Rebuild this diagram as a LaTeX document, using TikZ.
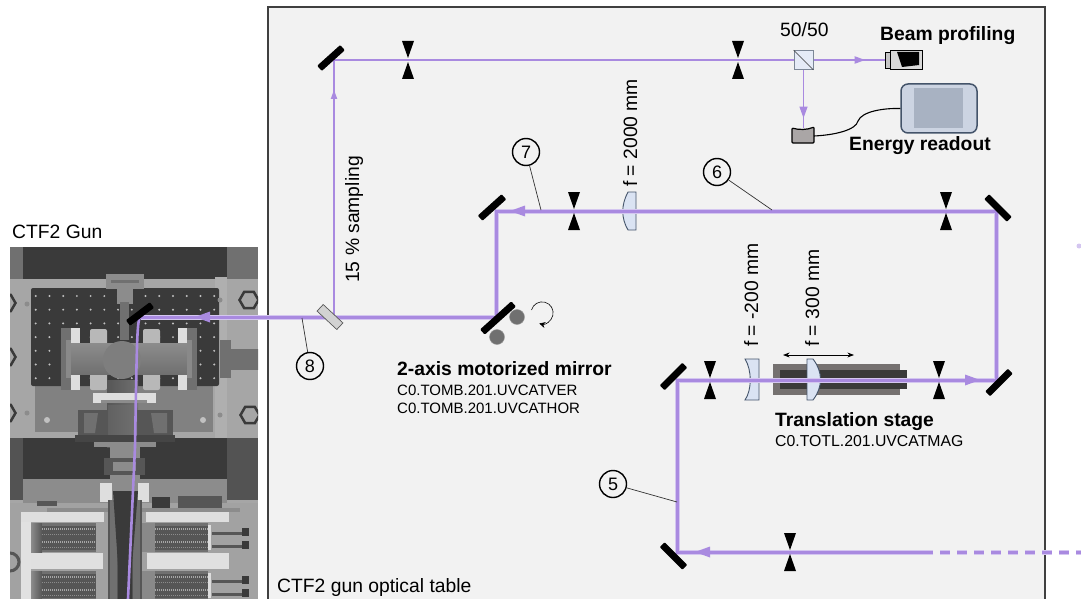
\documentclass[tikz,border=0pt]{standalone}
\usepackage{fontspec}
\setmainfont{Liberation Sans}
\usetikzlibrary{arrows.meta,calc,shapes.geometric}

\definecolor{beamcol}{HTML}{A98AE0}
\definecolor{glowcol}{HTML}{D4C6F0}
\definecolor{tablebg}{HTML}{F2F2F2}
\definecolor{framecol}{HTML}{404040}
\definecolor{lensfill}{HTML}{DAE3F3}
\definecolor{lensline}{HTML}{44546A}
\definecolor{stagecol}{HTML}{757170}
\definecolor{detcol}{HTML}{AAA6A6}
\definecolor{gunA}{HTML}{3A3A3A}
\definecolor{gunB}{HTML}{707070}
\definecolor{gunC}{HTML}{A6A6A6}
\definecolor{gunD}{HTML}{8C8C8C}
\definecolor{gunE}{HTML}{DEDEDE}
\definecolor{gunF}{HTML}{565656}

\begin{document}
\begin{tikzpicture}[
  x=1pt,y=-1pt,
  >=Stealth,
  lbl/.style   ={anchor=base west,inner sep=0pt,font=\fontsize{19.3}{22}\selectfont},
  lblb/.style  ={lbl,font=\fontsize{19.3}{22}\selectfont\bfseries},
  lbls/.style  ={lbl,font=\fontsize{15}{18}\selectfont},
  num/.style   ={draw=black,circle,line width=1.4pt,minimum size=27pt,inner sep=0pt,
                 font=\fontsize{18}{20}\selectfont},
  leader/.style={draw=black!80,line width=0.7pt},
  mirror/.style={fill=black,rectangle,rounded corners=1pt,minimum height=7pt,inner sep=0pt},
  glow/.style  ={draw=glowcol,line width=5pt},
  beam/.style  ={draw=beamcol,line width=3pt},
  thinbeam/.style={draw=beamcol,line width=1.5pt},
  lens/.style  ={fill=lensfill,draw=lensline,line width=0.9pt},
]

%% ===== Table and gun backgrounds =============================================
\fill[tablebg] (268,7) rectangle (1045,599);
\useasboundingbox (0,0) rectangle (1081,599);

\begin{scope}
  \clip (10,247) rectangle (258,599);
  \fill[gunC] (10,247) rectangle (258,599);
  \fill[gunB] (10,247) rectangle (23,279);
  \fill[gunB] (227,247) rectangle (258,279);
  \fill[gunA] (23,247) rectangle (227,279);
  \fill[gunC!90!white] (215,277) rectangle (227,440);
  \fill[gunD!110!white] (35,385) rectangle (213,432);
  \fill[gunA] (23,438) rectangle (227,479);
  \fill[gunB!120!white] (10,438) rectangle (23,500);
  \fill[gunB!120!white] (227,438) rectangle (258,500);
  \fill[gunD] (23,479) rectangle (227,503);

  %% breadboard
  \fill[gunA,rounded corners=2pt] (31,288) rectangle (219,386);
  \foreach \cx in {0,...,13}
    \foreach \cy in {0,...,6}
      \fill[gunC!70!white] (35.7+13.73*\cx,296+13.7*\cy) circle (1.1pt);

  %% bellows and flanges
  \fill[gunD] (106,274) rectangle (144,289);
  \fill[gunB] (111,280) rectangle (139,283);
  \fill[gunD] (117,284) rectangle (133,304);
  \fill[gunB] (120,302) rectangle (129,340);
  \fill[gunB] (61,328) rectangle (71,390);
  \fill[gunB] (187,328) rectangle (197,390);
  \foreach \wx in {71,178} {
    \fill[gunE] (\wx,328) rectangle (\wx+9,344);
    \fill[gunE] (\wx,375) rectangle (\wx+9,390);
  }
  \fill[gunC!80!white,rounded corners=2pt] (90,329) rectangle (107,390);
  \fill[gunC!80!white,rounded corners=2pt] (143,329) rectangle (160,390);
  \shade[top color=gunD,middle color=gunC,bottom color=gunB] (71,343) rectangle (187,374);
  \fill[gunD!90!black] (122,360) circle (19pt);
  \fill[gunF!70] (66,340) rectangle (71,378);
  \fill[gunF!70] (187,340) rectangle (192,378);

  %% side port
  \fill[gunB] (220,340) rectangle (231,378);
  \shade[top color=gunB,middle color=gunC,bottom color=gunB] (231,349) rectangle (258,369);

  %% lower column
  \shade[left color=gunF,right color=gunB] (107,380) rectangle (138,447);
  \fill[gunE] (93,393) rectangle (156,403);
  \fill[gunD] (101,400) rectangle (147,403);
  \fill[gunF] (78,410) rectangle (173,437);
  \fill[gunB] (84,413) -- (98,413) -- (95,433) -- (84,433) -- cycle;
  \fill[gunB] (167,413) -- (151,413) -- (154,433) -- (167,433) -- cycle;
  \shade[left color=gunA!80,right color=gunB] (108,405) rectangle (137,435);
  \fill[gunF!80!black] (75,435) rectangle (175,442);
  \fill[gunD] (94,442) rectangle (156,447);

  %% nuts and pins
  \foreach \nx/\ny in {249/300,250/415,6/303,6/357,6/413}
    \node[draw=gunA,line width=2.5pt,fill=gunC,regular polygon,regular polygon sides=6,
          minimum size=19pt,inner sep=0pt] (nut\nx\ny) at (\nx,\ny) {};
  \foreach \nx/\ny in {27/304,27/413,220/300,220/415}
    \fill[gunD] (\nx,\ny) circle (2.5pt);
  \foreach \nx/\ny in {47/420,203/420}
    \fill[gunC!70!white] (\nx,\ny) circle (3pt);

  %% solenoid section
  \fill[gunC!85!gunD] (10,503) rectangle (258,599);
  \fill[gunF] (37,501) rectangle (57,506);
  \fill[gunA] (152,497) rectangle (170,508);
  \fill[gunF] (178,496) rectangle (222,508);
  \fill[gunD] (47,508) rectangle (240,512);
  \fill[gunE!90] (21,522) rectangle (31,599);
  \fill[gunE] (21,512) rectangle (104,522);
  \fill[gunE] (146,512) rectangle (229,522);
  \fill[gunE!95] (31,553) rectangle (103,569);
  \fill[gunE!95] (147,553) rectangle (229,569);
  \foreach \py in {523,571} {
    \shade[left color=gunD,right color=gunF] (31,\py) rectangle (42,\py+29);
    \fill[gunB] (42,\py) rectangle (96,\py+29);
    \fill[gunF!70] (138,\py) rectangle (155,\py+29);
    \fill[gunB] (155,\py) rectangle (208,\py+29);
    \fill[gunE] (208,\py+2) rectangle (211,\py+27);
    \foreach \rx/\rw in {42/96,155/208} {
      \fill[gunF] (\rx,\py+3) rectangle (\rw,\py+27);
      \draw[gunC,line width=2pt,dash pattern=on 1pt off 1pt] (\rx,\py+6) -- (\rw,\py+6);
      \draw[gunD,line width=1.6pt,dash pattern=on 1pt off 1pt] (\rx,\py+11.5) -- (\rw,\py+11.5);
      \draw[gunC,line width=2pt,dash pattern=on 1pt off 1pt] (\rx,\py+19) -- (\rw,\py+19);
      \draw[gunD,line width=1.6pt,dash pattern=on 1pt off 1pt] (\rx,\py+24.5) -- (\rw,\py+24.5);
    }
    \foreach \ky in {0,13} {
      \fill[gunF] (212,\py+\ky+9) rectangle (243,\py+\ky+12);
      \fill[gunA] (242,\py+\ky+5) rectangle (249,\py+\ky+13);
    }
  }
  \draw[gunF,line width=3pt] (10,562) circle (9pt);

  %% upper beam tube and cone
  \fill[gunD] (110,447) rectangle (140,490);
  \fill[gunF] (104,458) rectangle (145,475);
  \fill[gunD] (113,462) rectangle (136,471);
  \fill[gunE] (100,483) rectangle (112,502);
  \fill[gunE] (138,483) rectangle (149,502);
  \fill[gunF] (108,500) rectangle (142,599);
  \fill[gunB] (110,500) rectangle (117,599);
  \fill[gunB] (133,500) rectangle (140,599);
  \fill[gunA] (113,491) -- (138,491) -- (132,565) -- (132,599) -- (118,599) -- (118,565) -- cycle;
\end{scope}

%% ===== Frame of the optical table ============================================
\draw[draw=framecol,line width=2pt] (268,599) -- (268,7) -- (1045,7) -- (1045,599);

%% ===== Labels ================================================================
\node[lbl]  (gunlabel)   at (12,238)  {CTF2 Gun};
\node[lbl]  (tablelabel) at (277,592) {CTF2 gun optical table};
\node[lbl]  (split)      at (780,37)  {50/50};
\node[lblb] (beamprof)   at (880,41)  {Beam profiling};
\node[lblb] (energy)     at (849,150) {Energy readout};
\node[lblb] (motor)      at (397,375) {2-axis motorized mirror};
\node[lbls] (motorv)     at (397,395) {C0.TOMB.201.UVCATVER};
\node[lbls] (motorh)     at (397,413) {C0.TOMB.201.UVCATHOR};
\node[lblb] (stage)      at (775,426) {Translation stage};
\node[lbls,font=\fontsize{15.8}{18}\selectfont] (stagename)  at (775,446) {C0.TOTL.201.UVCATMAG};
\node[lbl,rotate=90] (sampling) at (359,283) {15 \% sampling};
\node[lbl,rotate=90] (flong)    at (637,187) {f = 2000 mm};
\node[lbl,rotate=90] (fneg)     at (758,347) {f = -200 mm};
\node[lbl,rotate=90] (fpos)     at (819,347) {f = 300 mm};

%% ===== Translation stage and lenses ==========================================
\fill[stagecol] (773,364) rectangle (900,395);
\fill[gunA] (780,370) rectangle (907,389);
\draw[lens] (636,192) -- (628,192) .. controls (621,205) and (621,218) .. (628,230) -- (636,230) -- cycle;
\draw[lens] (745,359) -- (759,359) -- (759,400) -- (745,400) .. controls (752,390) and (752,370) .. cycle;
\draw[lens] (807,359) -- (813,359) .. controls (823,372) and (823,387) .. (813,400) -- (807,400) -- cycle;

%% ===== Beam corners ==========================================================
\coordinate (inright) at (1081,552);
\coordinate (dashend) at (933,552);
\coordinate (dashstart) at (940,552);
\coordinate (c1) at (677,552);
\coordinate (c2) at (677,380);
\coordinate (c3) at (996,380);
\coordinate (c4) at (996,211);
\coordinate (c5) at (496,211);
\coordinate (c6) at (496,317);
\coordinate (c7) at (141,317);
\coordinate (guna) at (135,447);
\coordinate (gunb) at (128,599);
\coordinate (pick) at (334,317);
\coordinate (t1) at (334,60);
\coordinate (cubec) at (803.5,60);
\coordinate (camin) at (885,60);
\coordinate (detin) at (803.5,128);

%% ===== Beams =================================================================
\draw[glow,dash pattern=on 10pt off 7pt] (dashstart) -- (inright);
\draw[beam,dash pattern=on 10pt off 7pt] (dashstart) -- (inright);
\draw[glow] (dashend) -- (c1) -- (c2) -- (c3) -- (c4) -- (c5) -- (c6) -- (c7);
\draw[beam] (dashend) -- (c1) -- (c2) -- (c3) -- (c4) -- (c5) -- (c6) -- (c7);
\draw[beamcol,line width=2.6pt,line join=round] (c7) .. controls (137,317) and (137,335) .. (guna) -- (gunb);
\draw[thinbeam] (pick) -- (t1) -- (cubec) -- (camin);
\draw[thinbeam] (cubec) -- (detin);
\fill[glowcol] (1079,246) circle (2.5pt);

%% ===== Arrow heads on the beams ==============================================
\foreach \tx/\ty/\ta/\ts in {195/317/180/1, 510/211/180/1, 980/380/0/1, 695/552/180/1,
                             334/90/90/0.6, 865/60/0/0.7, 803.5/118/-90/0.75}
  \fill[beamcol,shift={(\tx,\ty)},rotate=\ta,scale=\ts] (0,0) -- (-15,5.5) -- (-15,-5.5) -- cycle;

%% ===== Irises ================================================================
\foreach \ix/\iy in {408/60, 738/60, 574/211, 946/211, 710/380, 939/380, 790/552} {
  \fill[black] (\ix-6,\iy-19) -- (\ix+6,\iy-19) -- (\ix,\iy-2) -- cycle;
  \fill[black] (\ix-6,\iy+19) -- (\ix+6,\iy+19) -- (\ix,\iy+2) -- cycle;
}

%% ===== Mirrors ===============================================================
\foreach \mname/\mx/\my/\mang/\mlen in {mgun/140/314/37/30, mtop/331/58/42/31,
      mleft/492/207.5/42/32, mright/998/208/-45/32, mmotor/498/318/42/42,
      mstageleft/673.5/376.5/45/32, mstageright/999/382.5/45/32, mbottom/673.5/556/-45/32}
  \node[mirror,rotate=\mang,minimum width=\mlen pt] (\mname) at (\mx,\my) {};

\node[fill=gray!35,draw=black!65,line width=0.7pt,rotate=-43,minimum width=27pt,
      minimum height=9pt,inner sep=0pt] (sampler) at (330,317) {};

%% motor knobs and rotation arrow
\node[circle,fill=gunB,draw=gray!80,minimum size=15pt,inner sep=0pt] (knoba) at (517,317) {};
\node[circle,fill=gunB,draw=gray!80,minimum size=15pt,inner sep=0pt] (knobb) at (497,337) {};
\coordinate (rotstart) at (531.5,310);
\draw[black,line width=0.6pt,-{Stealth[length=6pt,width=6pt]}]
      (rotstart) arc[start angle=165,end angle=-105,radius=11pt];

%% double arrow of the translation stage
\coordinate (stagea) at (783,355);
\coordinate (stageb) at (854,355);
\draw[<->,black,line width=0.8pt] (stagea) -- (stageb);

%% ===== Splitter, camera, detector ============================================
\node[draw=lensline!70,fill=lensfill!70,line width=0.6pt,minimum size=19pt,inner sep=0pt] (cube) at (803.5,60) {};
\draw[black!80,line width=0.6pt] (cube.north west) -- (cube.south east);

\node[draw=black,fill=gray!45,line width=0.8pt,minimum width=5pt,minimum height=16pt,inner sep=0pt] (camback) at (887.5,60) {};
\node[draw=black,fill=gray!30,line width=1pt,minimum width=32pt,minimum height=19pt,inner sep=0pt] (camera) at (906,60) {};
\fill[black] (897,52) -- (919,52) -- (919,65) -- (902,67) -- cycle;

\node[draw=lensline,fill=lensfill!85!gray,line width=1.5pt,rounded corners=7pt,
      minimum width=76pt,minimum height=49pt,inner sep=0pt] (readout) at (939,108.5) {};
\node[fill=lensline!30!lensfill!90!gray,minimum width=49pt,minimum height=40pt,inner sep=0pt] (screen) at (938.5,108) {};

\draw[fill=detcol,draw=black,line width=1.2pt,rounded corners=1pt]
      (792,128) .. controls (799,130) and (807,130) .. (814,127) -- (814,143) -- (792,143) -- cycle;
\coordinate (detout) at (814,136);
\draw[black,line width=1.1pt] (detout) .. controls (835,135) and (856,130) .. (858,121)
      .. controls (862,111) and (885,108) .. (readout.west);

%% ===== Numbered markers ======================================================
\node[num] (n5) at (613,484) {5};
\node[num] (n6) at (717,172) {6};
\node[num] (n7) at (526,152) {7};
\node[num] (n8) at (310,366) {8};
\coordinate (p5) at (677,502);
\coordinate (p6) at (772,210);
\coordinate (p7) at (541,210);
\coordinate (p8) at (302,318);
\foreach \a/\b in {n5/p5, n6/p6, n7/p7, n8/p8} {
  \draw[leader] (\a) -- (\b);
}

\end{tikzpicture}
\end{document}
